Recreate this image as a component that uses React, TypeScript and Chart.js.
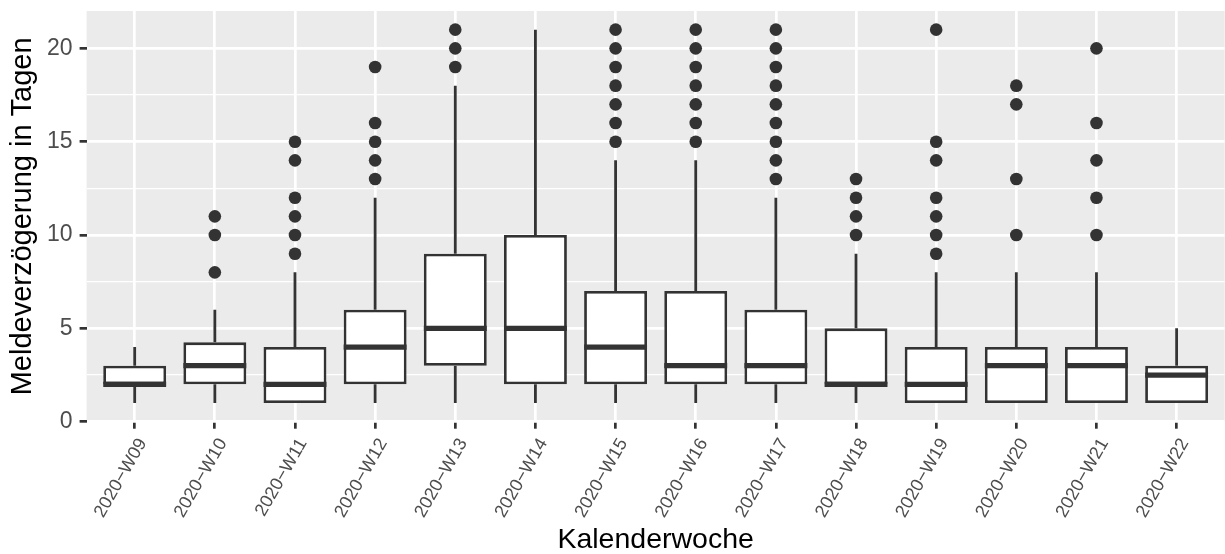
import React, { useEffect, useRef } from 'react';
import { Chart, registerables } from 'chart.js';

Chart.register(...registerables);

// ---- data ----
const weeks = [
  '2020−W09', '2020−W10', '2020−W11', '2020−W12', '2020−W13', '2020−W14', '2020−W15',
  '2020−W16', '2020−W17', '2020−W18', '2020−W19', '2020−W20', '2020−W21', '2020−W22',
];
const whiskerLow = [1, 1, 1, 1, 1, 1, 1, 1, 1, 1, 1, 1, 1, 1];
const q1 = [2, 2, 1, 2, 3, 2, 2, 2, 2, 2, 1, 1, 1, 1];
const median = [2, 3, 2, 4, 5, 5, 4, 3, 3, 2, 2, 3, 3, 2.5];
const q3 = [3, 4.25, 4, 6, 9, 10, 7, 7, 6, 5, 4, 4, 4, 3];
const whiskerHigh = [4, 6, 8, 12, 18, 21, 14, 14, 12, 9, 8, 8, 8, 5];
const outliers: number[][] = [
  [],
  [8, 10, 11],
  [9, 10, 11, 12, 14, 15],
  [13, 14, 15, 16, 19],
  [19, 20, 21],
  [],
  [15, 16, 17, 18, 19, 20, 21],
  [15, 16, 17, 18, 19, 20, 21],
  [13, 14, 15, 16, 17, 18, 19, 20, 21],
  [10, 11, 12, 13],
  [9, 10, 11, 12, 14, 15, 21],
  [10, 13, 17, 18],
  [10, 12, 14, 16, 20],
  [],
];
const yMajorTicks = [0, 5, 10, 15, 20];
const yMinorTicks = [2.5, 7.5, 12.5, 17.5];

const FONT = "'Liberation Sans', Arial, Helvetica, sans-serif";
const INK = '#333333';

const boxDetails = {
  id: 'boxDetails',
  beforeDraw(chart: any) {
    const { ctx, chartArea } = chart;
    ctx.save();
    ctx.fillStyle = '#EBEBEB';
    ctx.fillRect(chartArea.left, chartArea.top, chartArea.right - chartArea.left, chartArea.bottom - chartArea.top);
    ctx.restore();
  },
  afterDatasetsDraw(chart: any) {
    const { ctx, chartArea } = chart;
    const xs = chart.scales.x;
    const ys = chart.scales.y;
    const meta = chart.getDatasetMeta(0);
    ctx.save();
    ctx.beginPath();
    ctx.rect(chartArea.left, chartArea.top, chartArea.right - chartArea.left, chartArea.bottom - chartArea.top);
    ctx.clip();
    ctx.strokeStyle = INK;
    ctx.lineCap = 'butt';
    weeks.forEach((_, i) => {
      const px = xs.getPixelForValue(i);
      ctx.lineWidth = 2.8;
      ctx.beginPath();
      ctx.moveTo(px, ys.getPixelForValue(q3[i]));
      ctx.lineTo(px, ys.getPixelForValue(whiskerHigh[i]));
      ctx.moveTo(px, ys.getPixelForValue(q1[i]));
      ctx.lineTo(px, ys.getPixelForValue(whiskerLow[i]));
      ctx.stroke();
      const bar = meta.data[i];
      const w = bar ? bar.width : 60;
      ctx.lineWidth = 5.2;
      ctx.beginPath();
      const my = ys.getPixelForValue(median[i]);
      ctx.moveTo(px - w / 2, my);
      ctx.lineTo(px + w / 2, my);
      ctx.stroke();
    });
    ctx.restore();
  },
};

export default function App() {
  const ref = useRef<HTMLCanvasElement | null>(null);

  useEffect(() => {
    if (!ref.current) return;
    const outlierPoints: { x: number; y: number }[] = [];
    outliers.forEach((vals, i) => vals.forEach((v) => outlierPoints.push({ x: i, y: v })));

    const chart = new Chart(ref.current, {
      type: 'bar',
      data: {
        datasets: [
          {
            type: 'bar',
            data: weeks.map((_, i) => ({ x: i, y: [q1[i], q3[i]] })) as any,
            backgroundColor: '#FFFFFF',
            borderColor: INK,
            borderWidth: 2.8,
            borderSkipped: false,
            barPercentage: 0.785,
            categoryPercentage: 1,
            grouped: false,
            order: 2,
          } as any,
          {
            type: 'scatter',
            data: outlierPoints,
            backgroundColor: INK,
            borderWidth: 0,
            pointRadius: 6.3,
            pointHoverRadius: 6.3,
            order: 1,
          } as any,
        ],
      },
      options: {
        responsive: false,
        animation: false,
        devicePixelRatio: 1,
        events: [],
        layout: { padding: { top: 11, left: 0, right: 0, bottom: 0 } },
        plugins: {
          legend: { display: false },
          tooltip: { enabled: false },
        },
        scales: {
          x: {
            type: 'linear',
            min: -0.6,
            max: 13.6,
            offset: false,
            afterBuildTicks: (scale: any) => {
              scale.ticks = weeks.map((_, i) => ({ value: i }));
            },
            afterFit: (scale: any) => {
              scale.height = 554 - 421.7;
              scale.paddingLeft = 0;
              scale.paddingRight = 0;
            },
            border: { display: false },
            grid: {
              offset: false,
              color: '#FFFFFF',
              lineWidth: 2.7,
              tickColor: INK,
              tickLength: 7,
              tickWidth: 2.7,
            },
            ticks: {
              autoSkip: false,
              minRotation: 60,
              maxRotation: 60,
              padding: 6,
              labelOffset: 8,
              color: '#4D4D4D',
              font: { family: FONT, size: 18 },
              callback: (v: any) => weeks[Math.round(Number(v))] ?? '',
            },
            title: {
              display: true,
              text: 'Kalenderwoche',
              color: '#000000',
              font: { family: FONT, size: 28.5, lineHeight: 1 },
              padding: { top: 0, bottom: 0 },
            },
          },
          y: {
            type: 'linear',
            min: 0,
            max: 22,
            afterBuildTicks: (scale: any) => {
              scale.ticks = [...yMajorTicks, ...yMinorTicks]
                .sort((a, b) => a - b)
                .map((v) => ({ value: v }));
            },
            afterFit: (scale: any) => {
              scale.width = 86.6;
              scale.paddingTop = 0;
              scale.paddingBottom = 0;
            },
            border: { display: false },
            grid: {
              color: '#FFFFFF',
              lineWidth: (c: any) => (yMajorTicks.includes(c.tick?.value) ? 2.7 : 1.35),
              tickColor: (c: any) => (yMajorTicks.includes(c.tick?.value) ? INK : 'rgba(0,0,0,0)'),
              tickLength: 7,
              tickWidth: 2.7,
            },
            ticks: {
              padding: 7,
              color: '#4D4D4D',
              font: { family: FONT, size: 23 },
              callback: (v: any) => (yMajorTicks.includes(Number(v)) ? String(v) : ''),
            },
            title: {
              display: true,
              text: 'Meldeverzögerung in Tagen',
              color: '#000000',
              font: { family: FONT, size: 29, lineHeight: 1 },
              padding: { top: 8.5, bottom: 0 },
            },
          },
        },
      },
      plugins: [boxDetails],
    } as any);

    return () => chart.destroy();
  }, []);

  return (
    <div
      style={{
        position: 'fixed',
        left: 0,
        top: 0,
        width: 1225,
        height: 554,
        overflow: 'hidden',
        background: '#FFFFFF',
      }}
    >
      <canvas ref={ref} width={1231} height={554} style={{ display: 'block' }} />
    </div>
  );
}
